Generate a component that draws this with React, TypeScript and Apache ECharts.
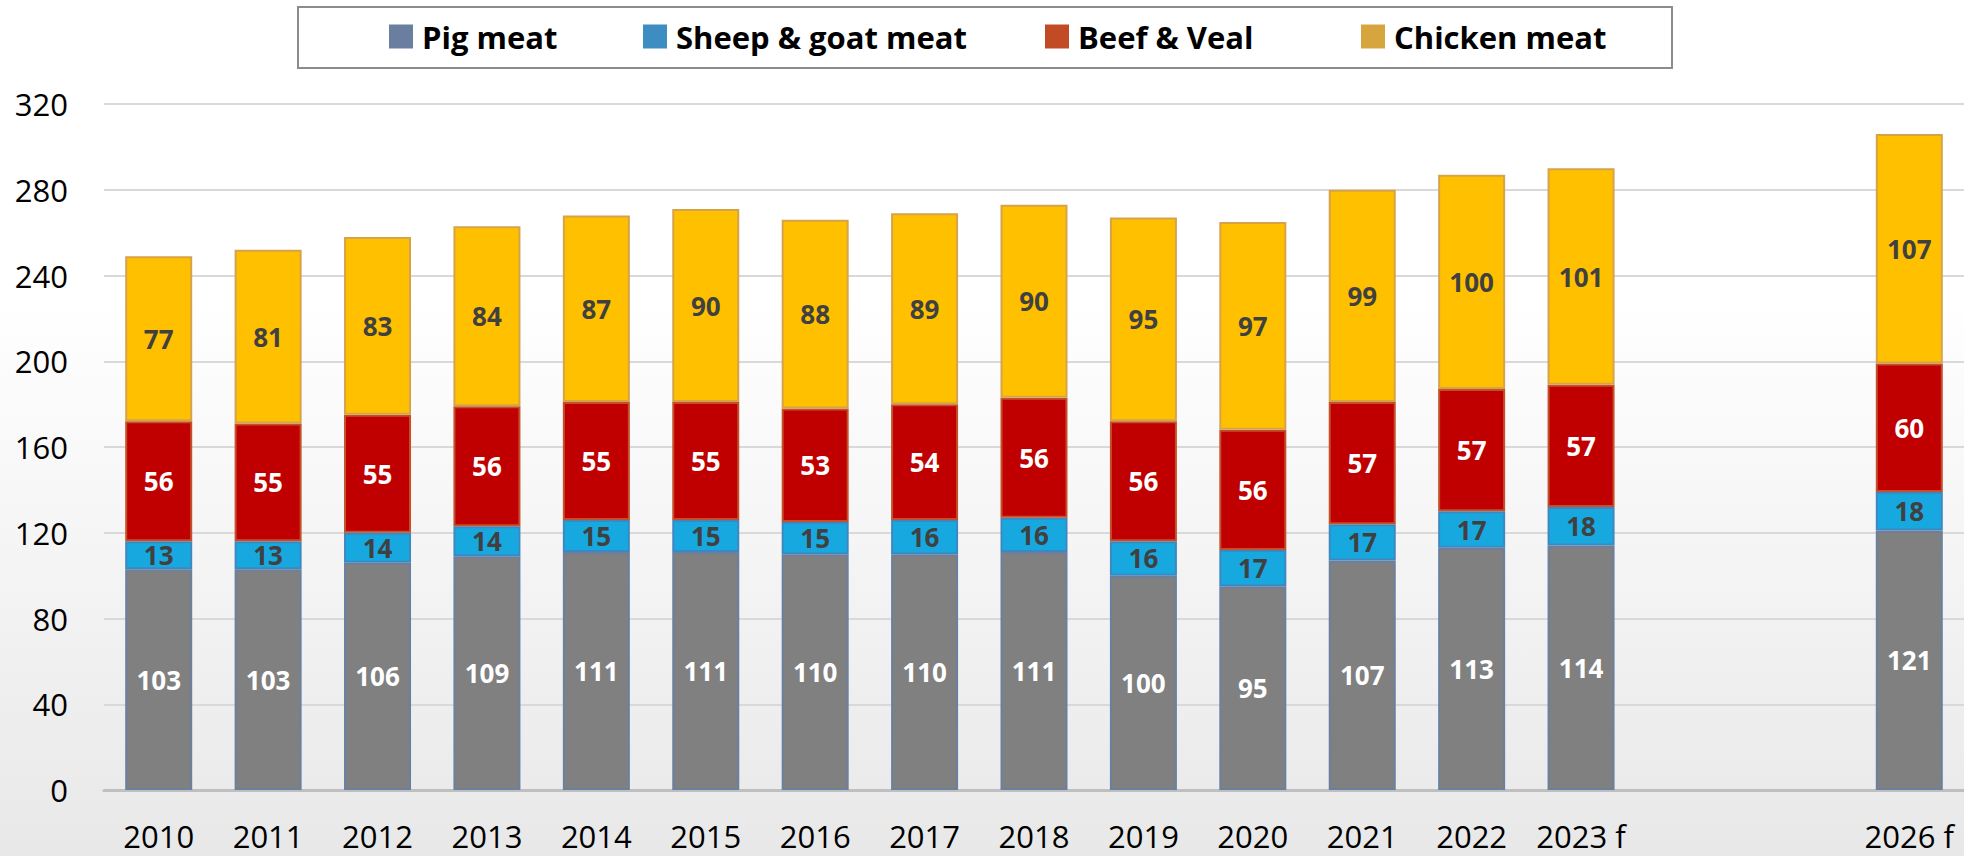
import React, { useEffect, useRef } from "react";
import * as echarts from "echarts";

const categories = ["2010", "2011", "2012", "2013", "2014", "2015", "2016", "2017", "2018", "2019", "2020", "2021", "2022", "2023 f", " ", "  ", "2026 f"];
const pigMeat = [103, 103, 106, 109, 111, 111, 110, 110, 111, 100, 95, 107, 113, 114, null, null, 121];
const sheepGoatMeat = [13, 13, 14, 14, 15, 15, 15, 16, 16, 16, 17, 17, 17, 18, null, null, 18];
const beefVeal = [56, 55, 55, 56, 55, 55, 53, 54, 56, 56, 56, 57, 57, 57, null, null, 60];
const chickenMeat = [77, 81, 83, 84, 87, 90, 88, 89, 90, 95, 97, 99, 100, 101, null, null, 107];
const yTicks = { min: 0, max: 320, interval: 40 };

const FONT = "'Open Sans', 'Noto Sans', sans-serif";

export default function App() {
  const ref = useRef<HTMLDivElement>(null);
  useEffect(() => {
    if (!ref.current) return;
    const chart = echarts.init(ref.current, null, { renderer: "svg" });
    const mkSeries = (name: string, data: (number | null)[], fill: string, border: string, labelColor: string) => ({
      name,
      type: "bar",
      stack: "total",
      barWidth: 67,
      data,
      itemStyle: { color: fill, borderColor: border, borderWidth: 2 },
      label: {
        show: true,
        position: "inside",
        color: labelColor,
        fontFamily: FONT,
        fontWeight: "bold",
        fontSize: 26,
        formatter: (p: any) => (p.value == null ? "" : String(p.value)),
      },
    });
    const legendItem = (name: string, left: number, color: string) => ({
      data: [{ name, itemStyle: { color, borderWidth: 0 } }],
      left,
      top: 16,
      itemWidth: 24,
      itemHeight: 24,
      icon: "rect",
      selectedMode: false,
      textStyle: { fontFamily: FONT, fontWeight: "bold", fontSize: 31, color: "#000", padding: [0, 0, 0, 4] },
    });
    chart.setOption({
      animation: false,
      backgroundColor: {
        type: "linear", x: 0, y: 0, x2: 0, y2: 1,
        colorStops: [
          { offset: 0, color: "#ffffff" },
          { offset: 0.35, color: "#ffffff" },
          { offset: 1, color: "#e8e8e8" },
        ],
      },
      graphic: [
        {
          type: "rect",
          shape: { x: 298, y: 7, width: 1374, height: 61 },
          style: { fill: "#ffffff", stroke: "#8c8c8c", lineWidth: 2 },
          z: -1,
        },
      ],
      legend: [
        legendItem("Pig meat", 384, "#6a7fa0"),
        legendItem("Sheep & goat meat", 638, "#3d8cc2"),
        legendItem("Beef & Veal", 1040, "#c24a24"),
        legendItem("Chicken meat", 1356, "#d6a53e"),
      ],
      grid: { left: 104, right: 0, top: 104, bottom: 66 },
      xAxis: {
        type: "category",
        data: categories,
        axisTick: { show: false },
        axisLine: { lineStyle: { color: "#bfbfbf", width: 3 } },
        axisLabel: { interval: 0, margin: 30, fontFamily: FONT, fontSize: 31, color: "#000" },
      },
      yAxis: {
        type: "value",
        min: yTicks.min,
        max: yTicks.max,
        interval: yTicks.interval,
        axisLine: { show: false },
        axisTick: { show: false },
        splitLine: { lineStyle: { color: "#d9d9d9", width: 2 } },
        axisLabel: { margin: 36, fontFamily: FONT, fontSize: 31, color: "#000" },
      },
      series: [
        mkSeries("Pig meat", pigMeat, "#808080", "#6b7f9e", "#ffffff"),
        mkSeries("Sheep & goat meat", sheepGoatMeat, "#18a8e0", "#3e88c0", "#404040"),
        mkSeries("Beef & Veal", beefVeal, "#c00000", "#c4502a", "#ffffff"),
        mkSeries("Chicken meat", chickenMeat, "#ffc000", "#d6a24a", "#404040"),
      ],
    });
    return () => chart.dispose();
  }, []);
  return <div ref={ref} style={{ position: "absolute", left: 0, top: 0, width: 1964, height: 856 }} />;
}
